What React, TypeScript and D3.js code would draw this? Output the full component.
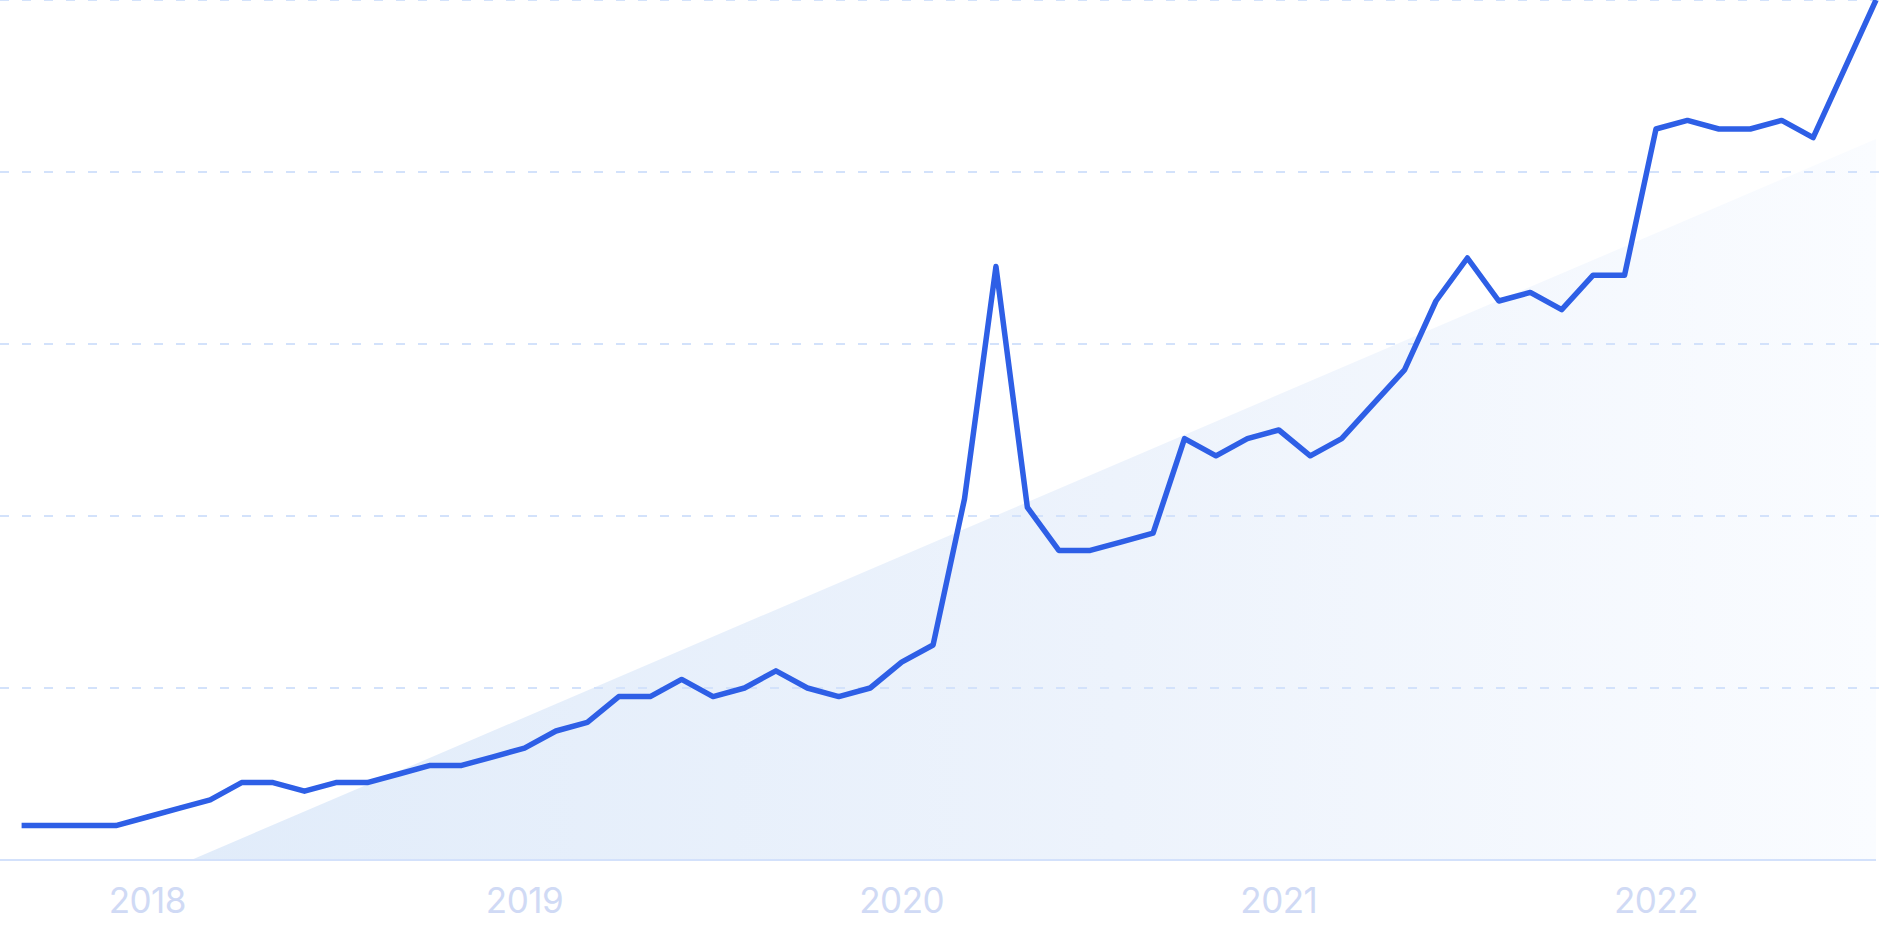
import React from "react";
import * as d3 from "d3";

const values: number[] = [
  4, 4, 4, 4, 5, 6, 7, 9, 9, 8,
  9, 9, 10, 11, 11, 12, 13, 15, 16, 19,
  19, 21, 19, 20, 22, 20, 19, 20, 23, 25,
  42, 69, 41, 36, 36, 37, 38, 49, 47, 49,
  50, 47, 49, 53, 57, 65, 70, 65, 66, 64,
  68, 68, 85, 86, 85, 85, 86, 84, 92, 100,
];
// first point is September 2017; January of each year sits at these indices
const yearLabels: string[] = ["2018", "2019", "2020", "2021", "2022"];
const yearIndex: number[] = [4, 16, 28, 40, 52];
const gridValues: number[] = [20, 40, 60, 80, 100];

const W = 1883;
const H = 941;

export default function App() {
  const x = d3.scaleLinear().domain([0, values.length - 1]).range([21.6, 1876]);
  const y = d3.scaleLinear().domain([0, 100]).range([860, 0]);

  // least-squares trend
  const n = values.length;
  const mi = d3.mean(values.map((_, i) => i)) as number;
  const mv = d3.mean(values) as number;
  let sxy = 0, sxx = 0;
  values.forEach((v, i) => { sxy += (i - mi) * (v - mv); sxx += (i - mi) * (i - mi); });
  const b = sxy / sxx;
  const a = mv - b * mi;
  const i0 = Math.max(0, -a / b);
  const iEnd = n - 1;
  const trendPts: [number, number][] = [
    [x(i0), y(Math.max(0, a + b * i0))],
    [x(iEnd), y(a + b * iEnd)],
    [x(iEnd), y(0)],
  ];
  const trendPath = "M" + trendPts.map((p) => p.join(",")).join("L") + "Z";

  const line = d3.line<number>().x((_, i) => x(i)).y((d) => y(d));

  return (
    <svg
      width={W}
      height={H}
      style={{ position: "absolute", left: 0, top: 0, background: "#ffffff" }}
    >
      <defs>
        <linearGradient id="trendGrad" x1="0" y1="0" x2="1" y2="0">
          <stop offset="0%" stopColor="#e1ecfa" />
          <stop offset="55%" stopColor="#edf3fc" />
          <stop offset="100%" stopColor="#fafcff" />
        </linearGradient>
      </defs>
      <path d={trendPath} fill="url(#trendGrad)" />
      {gridValues.map((g) => (
        <line
          key={g}
          x1={0}
          x2={W}
          y1={y(g)}
          y2={y(g)}
          stroke="#d3e2fb"
          strokeWidth={2}
          strokeDasharray="9 13"
        />
      ))}
      <line x1={0} x2={x(iEnd)} y1={y(0)} y2={y(0)} stroke="#d3e1fb" strokeWidth={2} />
      <path
        d={line(values) || ""}
        fill="none"
        stroke="#2e5fe6"
        strokeWidth={5.5}
        strokeLinejoin="round"
      />
      {yearLabels.map((t, k) => (
        <text
          key={t}
          x={x(yearIndex[k])}
          y={912.5}
          textAnchor="middle"
          fontFamily="Inter, 'Open Sans', sans-serif"
          fontWeight={400}
          fontSize={35}
          letterSpacing={-0.5}
          fill="#d0daf5"
        >
          {t}
        </text>
      ))}
    </svg>
  );
}
